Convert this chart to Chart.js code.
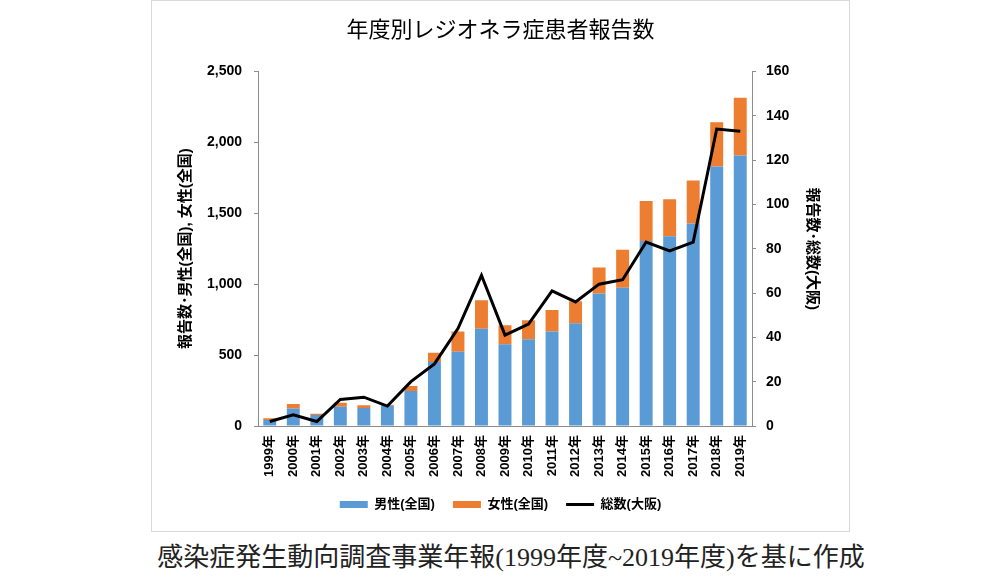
<!DOCTYPE html>
<html>
<head>
<meta charset="utf-8">
<script src="https://cdn.jsdelivr.net/npm/chart.js@4.4.1/dist/chart.umd.min.js"></script>
<style>
  body { margin: 0; background: #fff; width: 1000px; height: 586px; position: relative; overflow: hidden; }
  #chart { position: absolute; left: 151px; top: 0; width: 697px; height: 530px; border: 1px solid #d9d9d9; }
  #caption { position: absolute; left: 0; width: 1022px; top: 536px; text-align: center;
    font-family: "Liberation Serif", "Noto Sans CJK JP"; font-size: 26px; color: #222; }
</style>
</head>
<body>
<div id="chart"><canvas id="myChart"></canvas></div>
<div id="caption">感染症発生動向調査事業年報(1999年度~2019年度)を基に作成</div>
<script>
// 年度
const years = ['1999年', '2000年', '2001年', '2002年', '2003年', '2004年', '2005年', '2006年', '2007年', '2008年',
  '2009年', '2010年', '2011年', '2012年', '2013年', '2014年', '2015年', '2016年', '2017年', '2018年', '2019年'];
// 男性(全国)
const male = [42, 124, 77, 136, 127, 142, 246, 451, 523, 685, 577, 612, 666, 725, 935, 975, 1304, 1337, 1427, 1829, 1907];
// 女性(全国)
const female = [12, 31, 10, 28, 19, 8, 36, 65, 144, 202, 134, 134, 151, 155, 183, 268, 282, 261, 303, 313, 407];
// 総数(大阪)
const osaka = [2, 5, 2, 12, 13, 9, 20, 28, 44, 68, 41, 46, 61, 56, 64, 66, 83, 79, 83, 134, 133];

const leftMax = 2500, leftStep = 500;
const rightMax = 160, rightStep = 20;

Chart.defaults.font.family = "'Liberation Sans', 'Noto Sans CJK JP', sans-serif";
Chart.defaults.color = '#000';

const axisColor = '#8c8c8c';
const boldFont = (size) => ({ size: size, weight: 'bold' });

new Chart(document.getElementById('myChart'), {
  data: {
    labels: years,
    datasets: [
      { type: 'bar', label: '男性(全国)', data: male, yAxisID: 'y', stack: 's', order: 1,
        backgroundColor: '#5b9bd5', borderWidth: 0, barPercentage: 0.55, categoryPercentage: 1, pointStyle: 'rect' },
      { type: 'bar', label: '女性(全国)', data: female, yAxisID: 'y', stack: 's', order: 1,
        backgroundColor: '#ed7d31', borderWidth: 0, barPercentage: 0.55, categoryPercentage: 1, pointStyle: 'rect' },
      { type: 'line', label: '総数(大阪)', data: osaka, yAxisID: 'y1', order: 0,
        borderColor: '#000', backgroundColor: '#000', borderWidth: 3, pointRadius: 0, tension: 0, pointStyle: 'line' }
    ]
  },
  options: {
    responsive: true,
    maintainAspectRatio: false,
    animation: false,
    layout: { padding: { bottom: 10 } },
    scales: {
      x: {
        stacked: true,
        grid: { display: false, drawTicks: false },
        border: { display: true, color: axisColor, width: 1 },
        ticks: { minRotation: 90, maxRotation: 90, padding: 9, font: boldFont(13) },
        afterFit: (s) => { s.height = 54; }
      },
      y: {
        position: 'left',
        stacked: true,
        min: 0, max: leftMax,
        grid: { display: true, drawOnChartArea: false, tickLength: 4, color: axisColor },
        border: { color: axisColor, width: 1 },
        ticks: { stepSize: leftStep, padding: 12, font: boldFont(14),
          callback: (v) => v.toLocaleString('en-US') },
        title: { display: true, text: '報告数･男性(全国), 女性(全国)', font: boldFont(15), padding: { top: 25 } },
        afterFit: (s) => { s.width = 106; }
      },
      y1: {
        position: 'right',
        min: 0, max: rightMax,
        grid: { display: true, drawOnChartArea: false, tickLength: 4, color: axisColor },
        border: { color: axisColor, width: 1 },
        ticks: { stepSize: rightStep, padding: 10, font: boldFont(14) },
        title: { display: true, text: '報告数･総数(大阪)', font: boldFont(15), padding: { top: 28 } },
        afterFit: (s) => { s.width = 97; }
      }
    },
    plugins: {
      title: {
        display: true,
        text: '年度別レジオネラ症患者報告数',
        font: { size: 22, weight: 'normal' },
        color: '#000',
        padding: { top: 17, bottom: 27 }
      },
      legend: {
        position: 'bottom',
        labels: {
          usePointStyle: true, pointStyleWidth: 28, boxHeight: 7,
          padding: 18, font: boldFont(13),
          sort: (a, b) => a.datasetIndex - b.datasetIndex
        }
      },
      tooltip: { enabled: false }
    }
  }
});
</script>
</body>
</html>
